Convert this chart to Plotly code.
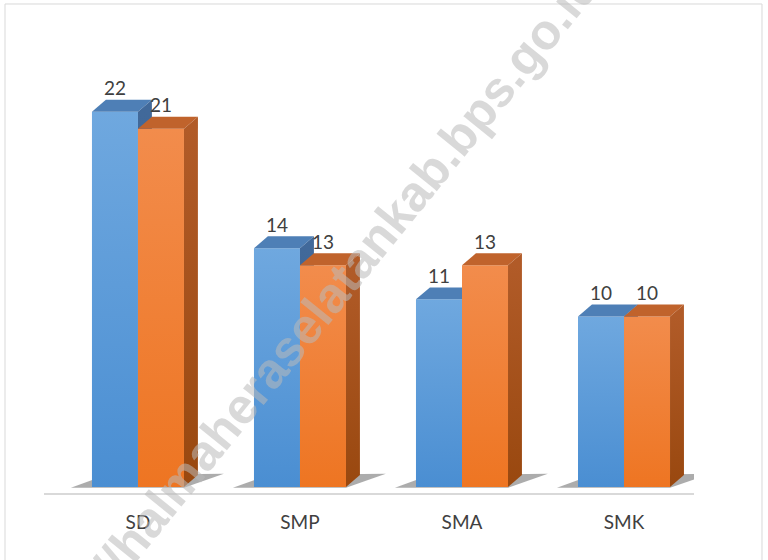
import plotly.graph_objects as go

categories = ["SD", "SMP", "SMA", "SMK"]
blue_values = [22, 14, 11, 10]
orange_values = [21, 13, 13, 10]

W = 0.284    # width of one bar (x units)
DX = 0.086   # 3d depth, x
DY = 0.70    # 3d depth, y

series = [
    dict(values=blue_values, offset=-W, front=("#4a8ed2", "#6fa8df"),
         top="#4e7fb6", side=("#345e8f", "#41699a")),
    dict(values=orange_values, offset=0.0, front=("#ee7522", "#f28c4c"),
         top="#c0632c", side=("#99480f", "#b15b28")),
]

fig = go.Figure()

# soft shadow at the base of each pair
for i in range(len(categories)):
    xl = i - W
    xr = i + W
    fig.add_trace(go.Scatter(
        x=[xl - 0.13, xr, xr + DX + 0.16, xl + DX, xl - 0.13],
        y=[-0.05, -0.05, DY * 1.1, DY, -0.05],
        fill="toself", mode="lines", line=dict(width=0),
        fillcolor="rgba(70,70,70,0.45)", hoverinfo="skip", showlegend=False))

for s in series:
    for i, v in enumerate(s["values"]):
        xl = i + s["offset"]
        xr = xl + W
        # front face
        fig.add_trace(go.Scatter(
            x=[xl, xr, xr, xl, xl], y=[0, 0, v, v, 0],
            fill="toself", mode="lines", line=dict(width=0),
            fillgradient=dict(type="vertical", start=0, stop=v,
                              colorscale=[[0, s["front"][0]], [1, s["front"][1]]]),
            hoverinfo="skip", showlegend=False))
        # top face
        fig.add_trace(go.Scatter(
            x=[xl, xr, xr + DX, xl + DX, xl], y=[v, v, v + DY, v + DY, v],
            fill="toself", mode="lines", line=dict(width=0),
            fillcolor=s["top"], hoverinfo="skip", showlegend=False))
        # side face
        fig.add_trace(go.Scatter(
            x=[xr, xr + DX, xr + DX, xr, xr], y=[0, DY, v + DY, v, 0],
            fill="toself", mode="lines", line=dict(width=0),
            fillgradient=dict(type="vertical", start=0, stop=v,
                              colorscale=[[0, s["side"][0]], [1, s["side"][1]]]),
            hoverinfo="skip", showlegend=False))

    # value labels
    fig.add_trace(go.Scatter(
        x=[i + s["offset"] + W / 2 for i in range(len(categories))],
        y=[v + DY for v in s["values"]],
        text=[str(v) for v in s["values"]],
        mode="text", textposition="top center",
        textfont=dict(family="Lato", size=19, color="#404040"),
        hoverinfo="skip", showlegend=False))

fig.update_layout(
    width=768, height=560,
    margin=dict(l=44, r=74, t=0, b=67),
    paper_bgcolor="white", plot_bgcolor="white",
    showlegend=False,
    xaxis=dict(range=[-0.580, 3.432], tickvals=list(range(len(categories))),
               ticktext=categories, showgrid=False, zeroline=False,
               showline=True, linecolor="#d9d9d9", linewidth=2,
               ticks="", ticklabelstandoff=11,
               tickfont=dict(family="Lato", size=19, color="#404040")),
    yaxis=dict(range=[-0.352, 28.55], visible=False, showgrid=False, zeroline=False),
    shapes=[dict(type="rect", xref="paper", yref="paper",
                 x0=-0.06, x1=1.1046, y0=-0.2, y1=0.9919,
                 line=dict(color="#d9d9d9", width=1), fillcolor="rgba(0,0,0,0)")],
    annotations=[dict(text="<b>//halmaheraselatankab.bps.go.id</b>",
                      xref="paper", yref="paper", x=0.465, y=0.44,
                      showarrow=False, textangle=-51,
                      font=dict(family="Liberation Sans", size=50,
                                color="rgba(185,185,185,0.55)"))],
)

fig.write_html("out.html", config={"displayModeBar": False},
               post_script="document.body.style.margin='0';document.body.style.padding='0';")
